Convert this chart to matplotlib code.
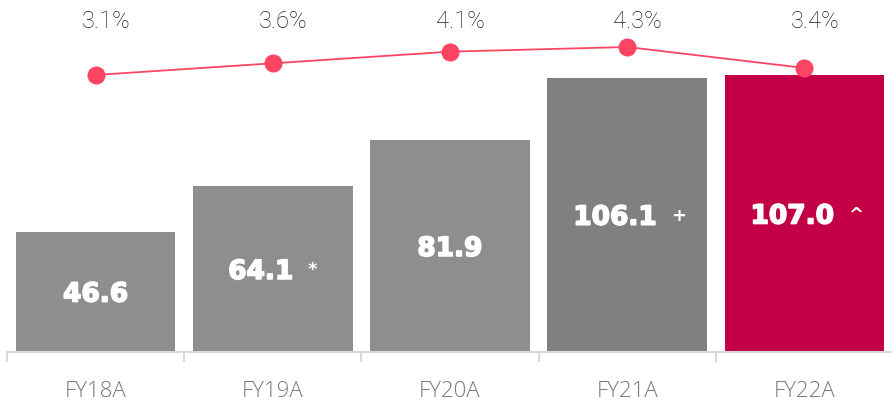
import matplotlib.pyplot as plt
import matplotlib.patheffects as pe
import numpy as np

years = ['FY18A', 'FY19A', 'FY20A', 'FY21A', 'FY22A']
revenue = [46.6, 64.1, 81.9, 106.1, 107.0]
marks = ['', '*', '', '+', '^']
margin = [3.1, 3.6, 4.1, 4.3, 3.4]

bar_colors = ['#8e8e8e', '#8e8e8e', '#8e8e8e', '#808080', '#c30045']
line_color = '#fb4562'

fig = plt.figure(figsize=(8.92, 4.02), dpi=100)
ax = fig.add_axes([7 / 892, 49 / 402, 886 / 892, 353 / 402])
x = np.arange(len(years))

ax.bar(x, revenue, width=0.9, color=bar_colors, zorder=2)
ax.set_xlim(-0.5, 4.5)
ax.set_ylim(0, 136.6)

for s in ['top', 'right', 'left']:
    ax.spines[s].set_visible(False)
ax.spines['bottom'].set_color('#d9d9d9')
ax.spines['bottom'].set_linewidth(1.5)
ax.set_yticks([])
ax.set_xticks(x)
ax.set_xticklabels(years, fontsize=16, color='#7a7a7a', fontfamily='Open Sans', fontweight='light')
ax.tick_params(axis='x', which='major', length=0, pad=20)
ax.set_xticks(np.arange(-0.5, 4.0, 1.0), minor=True)
ax.tick_params(axis='x', which='minor', length=7, width=1.5, color='#d9d9d9')

# values inside bars
heavy = [pe.withStroke(linewidth=1.2, foreground='white')]
for i, v in enumerate(revenue):
    off = -12 if marks[i] else 0
    t = ax.annotate(f'{v:.1f}', xy=(i, v / 2), xytext=(off * 0.72, -2), textcoords='offset points',
                    ha='center', va='center', color='white', fontsize=19,
                    fontfamily='DejaVu Sans', fontweight='bold', zorder=3, path_effects=heavy)
    if marks[i]:
        ax.annotate(marks[i], xy=(1, 1), xycoords=t, xytext=(10, -1), textcoords='offset points',
                    ha='left', va='top', color='white', fontsize=13,
                    fontfamily='DejaVu Sans', fontweight='bold', zorder=3)

ax2 = ax.twinx()
ax2.set_ylim(-8.79, 6.36)
ax2.axis('off')
ax2.plot(x, margin, color=line_color, lw=1.3, marker='o', markersize=13,
         markeredgewidth=0, zorder=4)
for i, m in enumerate(margin):
    ax2.text(i + 0.06, 0.938, f'{m}%', transform=ax2.get_xaxis_transform(),
             ha='center', va='center', fontsize=17, color='#1f1f1f',
             fontfamily='Roboto', fontweight='light')

fig.savefig('out.png', dpi=100)
